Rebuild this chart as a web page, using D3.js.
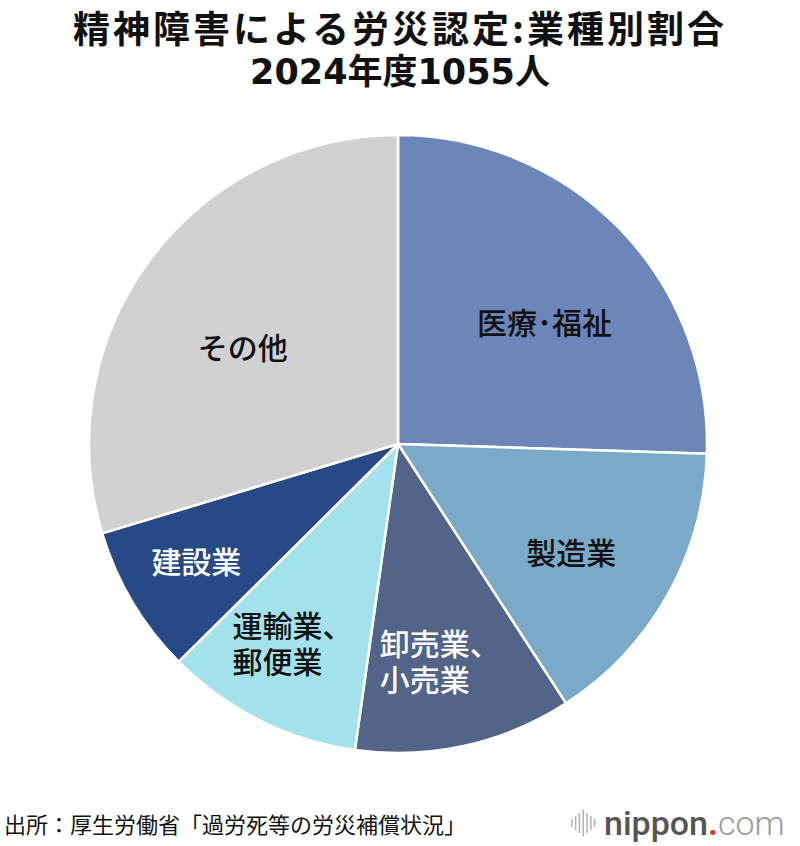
<!DOCTYPE html>
<html>
<head>
<meta charset="utf-8">
<script src="https://cdn.jsdelivr.net/npm/d3@7"></script>
<style>
  body { margin: 0; background: #fff; }
  svg { font-family: "Noto Sans CJK JP", "Noto Sans", sans-serif; }
</style>
</head>
<body>
<div id="chart"></div>
<script>
const width = 800;
const height = 846;

// 業種別 認定件数 (2024年度, 計1055人)
const categories = ['医療・福祉', '製造業', '卸売業、小売業', '運輸業、郵便業', '建設業', 'その他'];
const labelLines = [['医療･福祉'], ['製造業'], ['卸売業、', '小売業'], ['運輸業、', '郵便業'], ['建設業'], ['その他']];
const counts = [269, 162, 120, 109, 82, 313];
const colors = ['#6c86b9', '#7aaac7', '#526488', '#a3e2ea', '#274a86', '#d1d1d1'];
const labelColors = ['#111', '#111', '#fff', '#111', '#fff', '#111'];

const cx = 398, cy = 444, radius = 309;
// label placement: distance from centre and a small turn (deg) off the slice middle
const labelR = [190, 205, 222, 227, 234, 182];
const labelTurn = [4.6, 2.9, 1.6, 1.1, 0.3, -5.1];

const data = categories.map((c, i) => ({ name: c, lines: labelLines[i], value: counts[i], i: i }));

const svg = d3.select('#chart')
    .append('svg')
    .attr('width', width)
    .attr('height', height);

// title
svg.append('text')
    .attr('x', 400).attr('y', 43)
    .attr('text-anchor', 'middle')
    .attr('font-size', 37).attr('font-weight', 700)
    .attr('letter-spacing', 3)
    .attr('fill', '#111')
    .text('精神障害による労災認定:業種別割合');
svg.append('text')
    .attr('x', 400).attr('y', 84)
    .attr('text-anchor', 'middle')
    .style('font-family', '"DejaVu Sans", "Noto Sans CJK JP", sans-serif')
    .attr('font-size', 35).attr('font-weight', 700)
    .attr('fill', '#111')
    .text('2024年度1055人');

const pie = d3.pie().sort(null).value(d => d.value);
const arc = d3.arc().innerRadius(0).outerRadius(radius);

const g = svg.append('g').attr('transform', `translate(${cx}, ${cy})`);
const arcs = pie(data);

g.selectAll('path')
    .data(arcs)
    .enter()
    .append('path')
    .attr('d', arc)
    .attr('fill', d => colors[d.data.i])
    .attr('stroke', '#fff')
    .attr('stroke-width', 2.5)
    .attr('stroke-linejoin', 'round');

const lineH = 36;
const labels = g.selectAll('.label')
    .data(arcs)
    .enter()
    .append('text')
    .attr('class', 'label')
    .attr('font-size', 30)
    .attr('font-weight', 500)
    .attr('fill', d => labelColors[d.data.i]);

labels.each(function (d) {
    const r = labelR[d.data.i];
    const a = (d.startAngle + d.endAngle) / 2 + labelTurn[d.data.i] * Math.PI / 180;
    const lx = r * Math.sin(a), ly = -r * Math.cos(a);
    const t = d3.select(this);
    const n = d.data.lines.length;
    d.data.lines.forEach((l, k) => {
        t.append('tspan')
            .attr('y', ly + (k - (n - 1) / 2) * lineH)
            .attr('dy', '0.35em')
            .text(l);
    });
    // multi-line labels are left-aligned as a block
    const w = d3.max(t.selectAll('tspan').nodes(), s => s.getComputedTextLength());
    t.selectAll('tspan').attr('x', lx - w / 2);
});

// source
svg.append('text')
    .attr('x', 4).attr('y', 833)
    .attr('font-size', 22)
    .attr('fill', '#111')
    .text('出所：厚生労働省「過労死等の労災補償状況」');

// logo
const logo = svg.append('g').attr('transform', 'translate(571, 823)');
const barH = [8, 14, 20, 27, 20, 14, 8];
logo.selectAll('rect')
    .data(barH)
    .enter()
    .append('rect')
    .attr('x', (d, i) => i * 3.8)
    .attr('y', d => -d / 2)
    .attr('width', 1.6)
    .attr('height', d => d)
    .attr('fill', '#b5b5b5');
const lt = logo.append('text')
    .attr('x', 33).attr('y', 12)
    .style('font-family', 'Roboto, sans-serif')
    .attr('font-size', 34);
lt.append('tspan').attr('font-weight', 500).attr('fill', '#555').text('nippon');
lt.append('tspan').attr('font-weight', 700).attr('fill', '#e03a2f').text('.');
lt.append('tspan').attr('font-weight', 300).attr('fill', '#9a9a9a').text('com');
</script>
</body>
</html>
